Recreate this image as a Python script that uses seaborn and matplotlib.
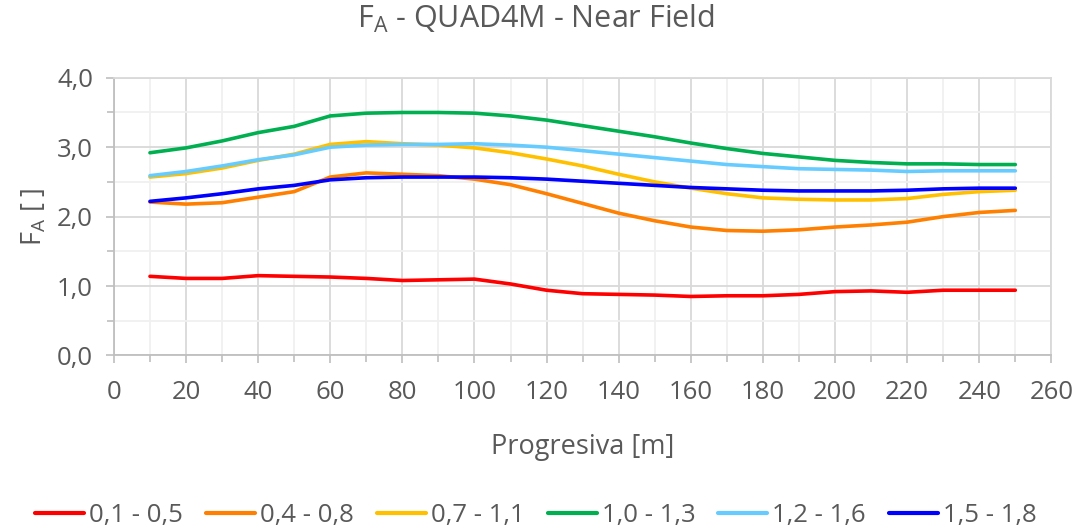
import matplotlib
matplotlib.use("Agg")
import matplotlib.pyplot as plt
import seaborn as sns
import pandas as pd
from matplotlib.ticker import MultipleLocator, FuncFormatter

# progresiva [m]
progresiva = [10, 20, 30, 40, 50, 60, 70, 80, 90, 100, 110, 120, 130,
              140, 150, 160, 170, 180, 190, 200, 210, 220, 230, 240, 250]

fa_01_05 = [1.14, 1.11, 1.11, 1.15, 1.14, 1.13, 1.11, 1.08, 1.09, 1.10, 1.03, 0.94, 0.89,
            0.88, 0.87, 0.85, 0.86, 0.86, 0.88, 0.92, 0.93, 0.91, 0.94, 0.94, 0.94]
fa_04_08 = [2.21, 2.18, 2.20, 2.28, 2.36, 2.57, 2.63, 2.61, 2.59, 2.54, 2.46, 2.33, 2.19,
            2.05, 1.94, 1.85, 1.80, 1.79, 1.81, 1.85, 1.88, 1.92, 2.00, 2.06, 2.09]
fa_07_11 = [2.57, 2.62, 2.70, 2.81, 2.90, 3.04, 3.08, 3.05, 3.03, 2.99, 2.92, 2.83, 2.73,
            2.61, 2.50, 2.41, 2.33, 2.27, 2.25, 2.24, 2.24, 2.26, 2.32, 2.36, 2.38]
fa_10_13 = [2.92, 2.99, 3.09, 3.21, 3.30, 3.45, 3.49, 3.50, 3.50, 3.49, 3.45, 3.39, 3.31,
            3.23, 3.15, 3.06, 2.98, 2.91, 2.86, 2.81, 2.78, 2.76, 2.76, 2.75, 2.75]
fa_12_16 = [2.59, 2.65, 2.73, 2.82, 2.89, 3.00, 3.03, 3.04, 3.04, 3.05, 3.03, 3.00, 2.95,
            2.90, 2.85, 2.80, 2.75, 2.72, 2.69, 2.68, 2.67, 2.65, 2.66, 2.66, 2.66]
fa_15_18 = [2.22, 2.27, 2.33, 2.40, 2.45, 2.53, 2.56, 2.57, 2.57, 2.57, 2.56, 2.54, 2.51,
            2.48, 2.45, 2.42, 2.40, 2.38, 2.37, 2.37, 2.37, 2.38, 2.40, 2.41, 2.41]

series_names = ["0,1 - 0,5", "0,4 - 0,8", "0,7 - 1,1", "1,0 - 1,3", "1,2 - 1,6", "1,5 - 1,8"]
series_values = [fa_01_05, fa_04_08, fa_07_11, fa_10_13, fa_12_16, fa_15_18]
colors = ["#FF0000", "#FF8000", "#FFC000", "#00B050", "#66CCFF", "#0000FF"]

rows = []
for name, vals in zip(series_names, series_values):
    for x, v in zip(progresiva, vals):
        rows.append({"Progresiva": x, "FA": v, "Rango": name})
df = pd.DataFrame(rows)

sns.set_style("white")
plt.rcParams["font.family"] = ["Open Sans", "DejaVu Sans"]
plt.rcParams["mathtext.default"] = "regular"
text_color = "#595959"

fig = plt.figure(figsize=(10.85, 5.29), dpi=100)
ax = fig.add_axes([0.105, 0.328, 0.864, 0.525])

sns.lineplot(data=df, x="Progresiva", y="FA", hue="Rango", hue_order=series_names,
             palette=colors, linewidth=2.6, ax=ax, legend=False)

ax.set_xlim(0, 260)
ax.set_ylim(0, 4)
ax.xaxis.set_major_locator(MultipleLocator(20))
ax.xaxis.set_minor_locator(MultipleLocator(10))
ax.yaxis.set_major_locator(MultipleLocator(1))
ax.yaxis.set_minor_locator(MultipleLocator(0.5))
ax.yaxis.set_major_formatter(FuncFormatter(lambda v, p: f"{v:.1f}".replace(".", ",")))

ax.grid(which="major", color="#d9d9d9", linewidth=1.3)
ax.grid(which="minor", color="#f0f0f0", linewidth=1.3)
ax.set_axisbelow(True)
for side in ["left", "bottom"]:
    ax.spines[side].set_color("#bfbfbf")
    ax.spines[side].set_linewidth(1.3)
for side in ["top", "right"]:
    ax.spines[side].set_color("#d9d9d9")
    ax.spines[side].set_linewidth(1.3)

ax.tick_params(which="both", direction="out", color="#bfbfbf", width=1.2,
               labelsize=18.5, labelcolor=text_color)
ax.tick_params(which="major", length=6)
ax.tick_params(axis="x", pad=12)
ax.tick_params(axis="y", pad=9)
ax.tick_params(which="minor", length=5)
ax.tick_params(axis="both", which="both", bottom=True, left=True)

ax.set_xlabel("Progresiva [m]", fontsize=19.5, color=text_color, labelpad=20)
ax.set_ylabel("F$_A$ [ ]", fontsize=19.5, color=text_color, labelpad=6)
fig.suptitle("F$_A$ - QUAD4M - Near Field", fontsize=22, color=text_color,
             x=0.494, y=0.995)

handles = [plt.Line2D([], [], color=c, linewidth=3) for c in colors]
fig.legend(handles, series_names, loc="center", bbox_to_anchor=(0.494, 0.026), ncol=6,
           frameon=False, fontsize=18.5, handlelength=1.9, handletextpad=0.2,
           columnspacing=0.9, labelcolor=text_color)

fig.savefig("out.png", dpi=100)
